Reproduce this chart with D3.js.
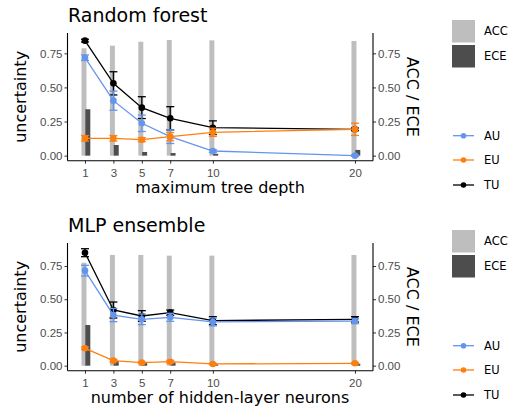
<!DOCTYPE html>
<html>
<head>
<meta charset="utf-8">
<script src="https://d3js.org/d3.v7.min.js"></script>
<style>
  body { margin: 0; background: #fff; }
  svg { font-family: "DejaVu Sans", sans-serif; }
</style>
</head>
<body>
<div id="chart"></div>
<script>
// x positions shared by both panels
const xValues = [1, 3, 5, 7, 10, 20];
const xTicks = [1, 3, 5, 7, 10, 20];
const yTicks = [0, 0.25, 0.5, 0.75];

// Random forest
const rfACC = [0.787, 0.806, 0.835, 0.848, 0.845, 0.840];
const rfECE = [0.34, 0.078, 0.027, 0.019, 0.014, 0.042];
const rfTU = [0.843, 0.53, 0.352, 0.274, 0.205, 0.193];
const rfTUerr = [0.01, 0.085, 0.08, 0.085, 0.05, 0.01];
const rfAU = [0.718, 0.403, 0.237, 0.139, 0.034, 0.0];
const rfAUerr = [0.02, 0.07, 0.06, 0.05, 0.01, 0.005];
const rfEU = [0.127, 0.127, 0.117, 0.139, 0.171, 0.193];
const rfEUerr = [0.02, 0.02, 0.015, 0.03, 0.03, 0.045];

// MLP ensemble
const mlpACC = [0.775, 0.833, 0.833, 0.828, 0.828, 0.833];
const mlpECE = [0.306, 0.035, 0.02, 0.025, 0.01, 0.015];
const mlpTU = [0.85, 0.419, 0.374, 0.399, 0.339, 0.349];
const mlpTUerr = [0.03, 0.06, 0.04, 0.02, 0.03, 0.02];
const mlpAU = [0.715, 0.381, 0.349, 0.364, 0.329, 0.336];
const mlpAUerr = [0.04, 0.05, 0.04, 0.03, 0.03, 0.02];
const mlpEU = [0.131, 0.038, 0.023, 0.03, 0.013, 0.018];
const mlpEUerr = [0.01, 0.01, 0.005, 0.01, 0.005, 0.005];

const colors = { ACC: "#bebebe", ECE: "#4d4d4d", AU: "#6495ed", EU: "#ff7f0e", TU: "#000000" };

const svg = d3.select("#chart").append("svg")
  .attr("width", 516)
  .attr("height", 408);

const x = d3.scaleLinear().domain([-0.23, 21.27]).range([67.5, 373]);

const panels = [
  {
    title: "Random forest", xlabel: "maximum tree depth",
    top: 33, bottom: 160.7, ydom: [-0.037, 0.899],
    acc: rfACC, ece: rfECE,
    series: [
      { key: "TU", v: rfTU, e: rfTUerr },
      { key: "AU", v: rfAU, e: rfAUerr },
      { key: "EU", v: rfEU, e: rfEUerr }
    ]
  },
  {
    title: "MLP ensemble", xlabel: "number of hidden-layer neurons",
    top: 243, bottom: 370.7, ydom: [-0.0376, 0.923],
    acc: mlpACC, ece: mlpECE,
    series: [
      { key: "TU", v: mlpTU, e: mlpTUerr },
      { key: "AU", v: mlpAU, e: mlpAUerr },
      { key: "EU", v: mlpEU, e: mlpEUerr }
    ]
  }
];

panels.forEach((p, pi) => {
  const y = d3.scaleLinear().domain(p.ydom).range([p.bottom, p.top]);
  const g = svg.append("g");

  // bars (ACC behind, ECE dodged to the right)
  const bw = x(0.35) - x(0);
  g.selectAll(".acc").data(xValues).enter().append("rect")
    .attr("x", (d, i) => x(d - 0.07) - bw / 2)
    .attr("y", (d, i) => y(p.acc[i]))
    .attr("width", bw)
    .attr("height", (d, i) => y(0) - y(p.acc[i]))
    .attr("fill", colors.ACC);
  g.selectAll(".ece").data(xValues).enter().append("rect")
    .attr("x", (d, i) => x(d + 0.2) - bw / 2)
    .attr("y", (d, i) => y(p.ece[i]))
    .attr("width", bw)
    .attr("height", (d, i) => y(0) - y(p.ece[i]))
    .attr("fill", colors.ECE);

  // lines, error bars, points
  p.series.forEach(s => {
    const c = colors[s.key];
    const pts = xValues.map((d, i) => ({ x: d, v: s.v[i], e: s.e[i] }));
    g.append("path")
      .datum(pts)
      .attr("fill", "none")
      .attr("stroke", c)
      .attr("stroke-width", 1.3)
      .attr("d", d3.line().x(d => x(d.x)).y(d => y(d.v)));
    const eb = g.append("g").attr("stroke", c).attr("stroke-width", 1.3);
    pts.forEach(d => {
      eb.append("line").attr("x1", x(d.x)).attr("x2", x(d.x))
        .attr("y1", y(d.v - d.e)).attr("y2", y(d.v + d.e));
      eb.append("line").attr("x1", x(d.x) - 4).attr("x2", x(d.x) + 4)
        .attr("y1", y(d.v - d.e)).attr("y2", y(d.v - d.e));
      eb.append("line").attr("x1", x(d.x) - 4).attr("x2", x(d.x) + 4)
        .attr("y1", y(d.v + d.e)).attr("y2", y(d.v + d.e));
    });
    g.selectAll(".pt" + s.key).data(pts).enter().append("circle")
      .attr("cx", d => x(d.x))
      .attr("cy", d => y(d.v))
      .attr("r", 3.3)
      .attr("fill", c);
  });

  // axes
  const fmt = d3.format(".2f");
  const left = g.append("g").attr("transform", `translate(${x.range()[0]},0)`)
    .call(d3.axisLeft(y).tickValues(yTicks).tickFormat(fmt).tickSize(3).tickPadding(2));
  const right = g.append("g").attr("transform", `translate(${x.range()[1]},0)`)
    .call(d3.axisRight(y).tickValues(yTicks).tickFormat(fmt).tickSize(3).tickPadding(2));
  const bottom = g.append("g").attr("transform", `translate(0,${p.bottom})`)
    .call(d3.axisBottom(x).tickValues(xTicks).tickFormat(d3.format("d")).tickSize(3).tickPadding(5));
  [left, right, bottom].forEach(a => {
    a.select(".domain").remove();
    a.selectAll(".tick line").attr("stroke", "#333").attr("stroke-width", 1);
    a.selectAll(".tick text").attr("fill", "#4d4d4d").style("font-size", "11.5px");
  });
  g.append("line").attr("x1", x.range()[0]).attr("x2", x.range()[0])
    .attr("y1", p.top).attr("y2", p.bottom).attr("stroke", "#000").attr("stroke-width", 1.1);
  g.append("line").attr("x1", x.range()[1]).attr("x2", x.range()[1])
    .attr("y1", p.top).attr("y2", p.bottom).attr("stroke", "#000").attr("stroke-width", 1.1);
  g.append("line").attr("x1", x.range()[0]).attr("x2", x.range()[1])
    .attr("y1", p.bottom).attr("y2", p.bottom).attr("stroke", "#000").attr("stroke-width", 1.1);

  // titles
  const off = pi * 210;
  g.append("text").attr("x", 68).attr("y", 22 + off)
    .style("font-size", "19px").attr("fill", "#000").text(p.title);
  g.append("text").attr("x", 220).attr("y", p.bottom + 32)
    .attr("text-anchor", "middle").style("font-size", "16px").attr("fill", "#000").text(p.xlabel);
  const midY = (p.top + p.bottom) / 2;
  g.append("text").attr("transform", `translate(26,${midY}) rotate(-90)`)
    .attr("text-anchor", "middle").style("font-size", "16px").attr("fill", "#000").text("uncertainty");
  g.append("text").attr("transform", `translate(407,${midY}) rotate(90)`)
    .attr("text-anchor", "middle").style("font-size", "16px").attr("fill", "#000").text("ACC / ECE");

  // legends
  const lg = svg.append("g").attr("transform", `translate(0,${off})`);
  [["ACC", 20], ["ECE", 45]].forEach(([k, yy]) => {
    lg.append("rect").attr("x", 452).attr("y", yy).attr("width", 23).attr("height", 22.5).attr("fill", colors[k]);
    lg.append("text").attr("x", 484).attr("y", yy + 11).attr("dy", "0.35em")
      .style("font-size", "11.5px").attr("fill", "#000").text(k);
  });
  [["AU", 135.7], ["EU", 160], ["TU", 185]].forEach(([k, yy]) => {
    lg.append("line").attr("x1", 453).attr("x2", 474).attr("y1", yy).attr("y2", yy)
      .attr("stroke", colors[k]).attr("stroke-width", 1.3);
    lg.append("circle").attr("cx", 463.5).attr("cy", yy).attr("r", 2.8).attr("fill", colors[k]);
    lg.append("text").attr("x", 484).attr("y", yy).attr("dy", "0.35em")
      .style("font-size", "11.5px").attr("fill", "#000").text(k);
  });
});
</script>
</body>
</html>
